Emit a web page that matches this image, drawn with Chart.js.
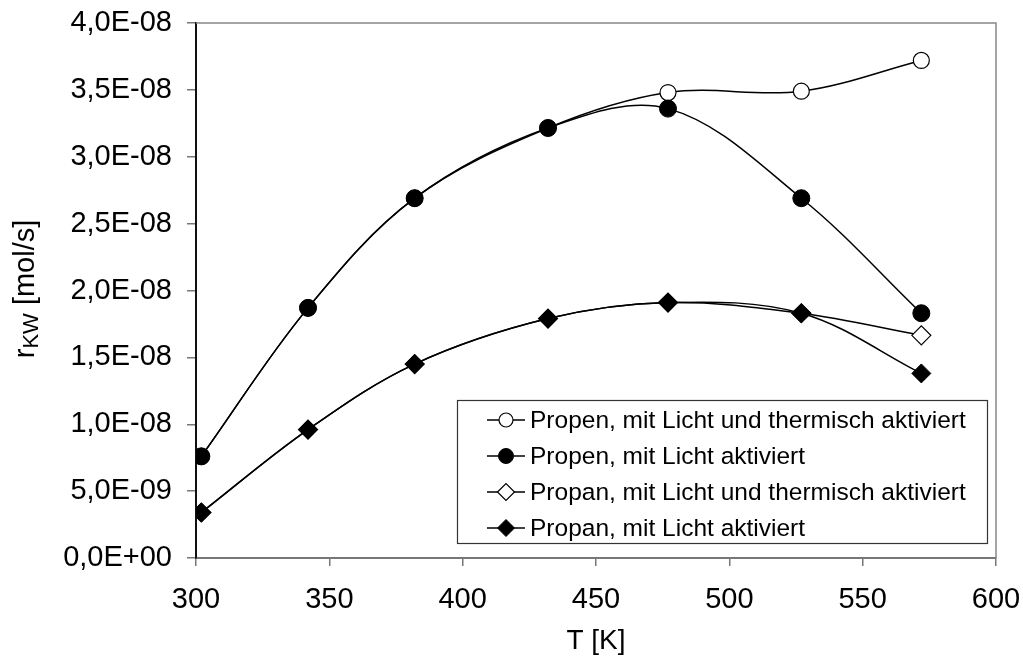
<!DOCTYPE html>
<html>
<head>
<meta charset="utf-8">
<script src="https://cdn.jsdelivr.net/npm/chart.js@4/dist/chart.umd.min.js"></script>
<style>
  html, body { margin: 0; padding: 0; background: #fff; }
  #wrap { width: 1023px; height: 658px; }
</style>
</head>
<body>
<div id="wrap"><canvas id="chart" width="1023" height="658"></canvas></div>
<script>
// temperatures [K]
const temps = [302, 342, 382, 432, 477, 527, 572];

// r_KW [mol/s]
const propenThermal = [7.6e-9, 1.87e-8, 2.69e-8, 3.215e-8, 3.48e-8, 3.49e-8, 3.72e-8];
const propenLight   = [7.6e-9, 1.87e-8, 2.69e-8, 3.215e-8, 3.36e-8, 2.69e-8, 1.83e-8];
const propanThermal = [3.4e-9, 9.6e-9, 1.45e-8, 1.79e-8, 1.91e-8, 1.83e-8, 1.665e-8];
const propanLight   = [3.4e-9, 9.6e-9, 1.45e-8, 1.79e-8, 1.91e-8, 1.83e-8, 1.38e-8];

const seriesLabels = [
  "Propen, mit Licht und thermisch aktiviert",
  "Propen, mit Licht aktiviert",
  "Propan, mit Licht und thermisch aktiviert",
  "Propan, mit Licht aktiviert",
];

const FONT = "'Liberation Sans', Arial, sans-serif";

const toPoints = (ys) => temps.map((t, i) => ({ x: t, y: ys[i] }));

// Excel style number format: 2,5E-08
const fmtE = (v) => {
  if (Math.abs(v) < 1e-15) return "0,0E+00";
  let e = Math.floor(Math.log10(Math.abs(v)) + 1e-9);
  let m = v / Math.pow(10, e);
  if (Math.round(m * 10) >= 100) { m /= 10; e += 1; }
  return m.toFixed(1).replace(".", ",") + "E" + (e < 0 ? "-" : "+") + String(Math.abs(e)).padStart(2, "0");
};

const makeSet = (label, ys, style, filled, radius, order) => ({
  label: label,
  data: toPoints(ys),
  borderColor: "#000",
  borderWidth: 1.5,
  tension: 0.35,
  pointStyle: style,
  pointRadius: radius,
  pointHoverRadius: radius,
  pointBackgroundColor: filled ? "#000" : "#fff",
  pointBorderColor: "#000",
  pointBorderWidth: filled ? 1 : 1.2,
  fill: false,
  order: order,
});

// gray frame round the plot area
const framePlugin = {
  id: "frame",
  beforeDatasetsDraw(chart) {
    const { ctx, chartArea: a } = chart;
    ctx.save();
    ctx.strokeStyle = "#888";
    ctx.lineWidth = 1.5;
    ctx.beginPath();
    ctx.moveTo(a.left, a.top);
    ctx.lineTo(a.right, a.top);
    ctx.lineTo(a.right, a.bottom);
    ctx.stroke();
    ctx.restore();
  },
};

// y title with subscript, and the legend box inside the plot
const extrasPlugin = {
  id: "extras",
  afterDraw(chart) {
    const { ctx } = chart;
    ctx.save();

    // y axis title
    ctx.translate(26, 289);
    ctx.rotate(-Math.PI / 2);
    ctx.fillStyle = "#000";
    ctx.textBaseline = "middle";
    const big = "29px " + FONT, small = "22px " + FONT;
    ctx.font = big;
    const wR = ctx.measureText("r").width;
    const wRest = ctx.measureText(" [mol/s]").width;
    ctx.font = small;
    const wSub = ctx.measureText("KW").width;
    let x = -(wR + wSub + wRest) / 2;
    ctx.font = big;
    ctx.textAlign = "left";
    ctx.fillText("r", x, 0);
    x += wR;
    ctx.font = small;
    ctx.fillText("KW", x, 6);
    x += wSub;
    ctx.font = big;
    ctx.fillText(" [mol/s]", x, 0);
    ctx.restore();

    // legend
    ctx.save();
    const bx = 457, by = 400, bw = 530, bh = 143;
    ctx.fillStyle = "#fff";
    ctx.fillRect(bx, by, bw, bh);
    ctx.strokeStyle = "#333";
    ctx.lineWidth = 1.2;
    ctx.strokeRect(bx + 0.5, by + 0.5, bw, bh);
    const rows = [420, 456, 492, 528];
    chart.data.datasets.forEach((ds, i) => {
      const y = rows[i];
      ctx.strokeStyle = "#000";
      ctx.lineWidth = 1.5;
      ctx.beginPath();
      ctx.moveTo(487, y);
      ctx.lineTo(525, y);
      ctx.stroke();
      ctx.fillStyle = ds.pointBackgroundColor;
      ctx.strokeStyle = "#000";
      ctx.lineWidth = ds.pointBorderWidth;
      ctx.beginPath();
      if (ds.pointStyle === "circle") {
        ctx.arc(506, y, ds.pointRadius - 1, 0, Math.PI * 2);
      } else {
        const r = ds.pointRadius - 1;
        ctx.moveTo(506 - r, y);
        ctx.lineTo(506, y - r);
        ctx.lineTo(506 + r, y);
        ctx.lineTo(506, y + r);
        ctx.closePath();
      }
      ctx.fill();
      ctx.stroke();
      ctx.fillStyle = "#000";
      ctx.font = "24.5px " + FONT;
      ctx.textAlign = "left";
      ctx.textBaseline = "middle";
      ctx.fillText(ds.label, 530, y + 1);
    });
    ctx.restore();
  },
};

const chart = new Chart(document.getElementById("chart"), {
  type: "line",
  data: {
    datasets: [
      makeSet(seriesLabels[0], propenThermal, "circle", false, 8, 3),
      makeSet(seriesLabels[1], propenLight, "circle", true, 8.5, 1),
      makeSet(seriesLabels[2], propanThermal, "rectRot", false, 9.5, 4),
      makeSet(seriesLabels[3], propanLight, "rectRot", true, 9.5, 2),
    ],
  },
  options: {
    responsive: false,
    animation: false,
    layout: { padding: { top: 23, right: 27, left: 0, bottom: 0 } },
    plugins: {
      legend: { display: false },
      tooltip: { enabled: false },
    },
    scales: {
      x: {
        type: "linear",
        min: 300,
        max: 600,
        ticks: {
          stepSize: 50,
          color: "#000",
          font: { family: FONT, size: 29 },
          padding: 17,
          maxRotation: 0,
        },
        grid: { drawOnChartArea: false, drawTicks: true, tickLength: 8, color: "#777", lineWidth: 1.5 },
        border: { display: true, color: "#777", width: 2 },
        title: {
          display: true,
          text: "T [K]",
          color: "#000",
          font: { family: FONT, size: 28, lineHeight: 1.2 },
          padding: { top: 0, bottom: 0 },
        },
        afterFit(scale) {
          scale.height = 100;
          scale.paddingLeft = 0;
          scale.paddingRight = 0;
        },
      },
      y: {
        type: "linear",
        min: 0,
        max: 4e-8,
        ticks: {
          stepSize: 5e-9,
          color: "#000",
          font: { family: FONT, size: 29 },
          padding: 15,
          callback: (v) => fmtE(v),
        },
        grid: { drawOnChartArea: false, drawTicks: true, tickLength: 9, color: "#777", lineWidth: 1.5 },
        border: { display: true, color: "#111", width: 2 },
        afterFit(scale) {
          scale.width = 196;
          scale.paddingTop = 0;
          scale.paddingBottom = 0;
        },
      },
    },
  },
  plugins: [framePlugin, extrasPlugin],
});
</script>
</body>
</html>
